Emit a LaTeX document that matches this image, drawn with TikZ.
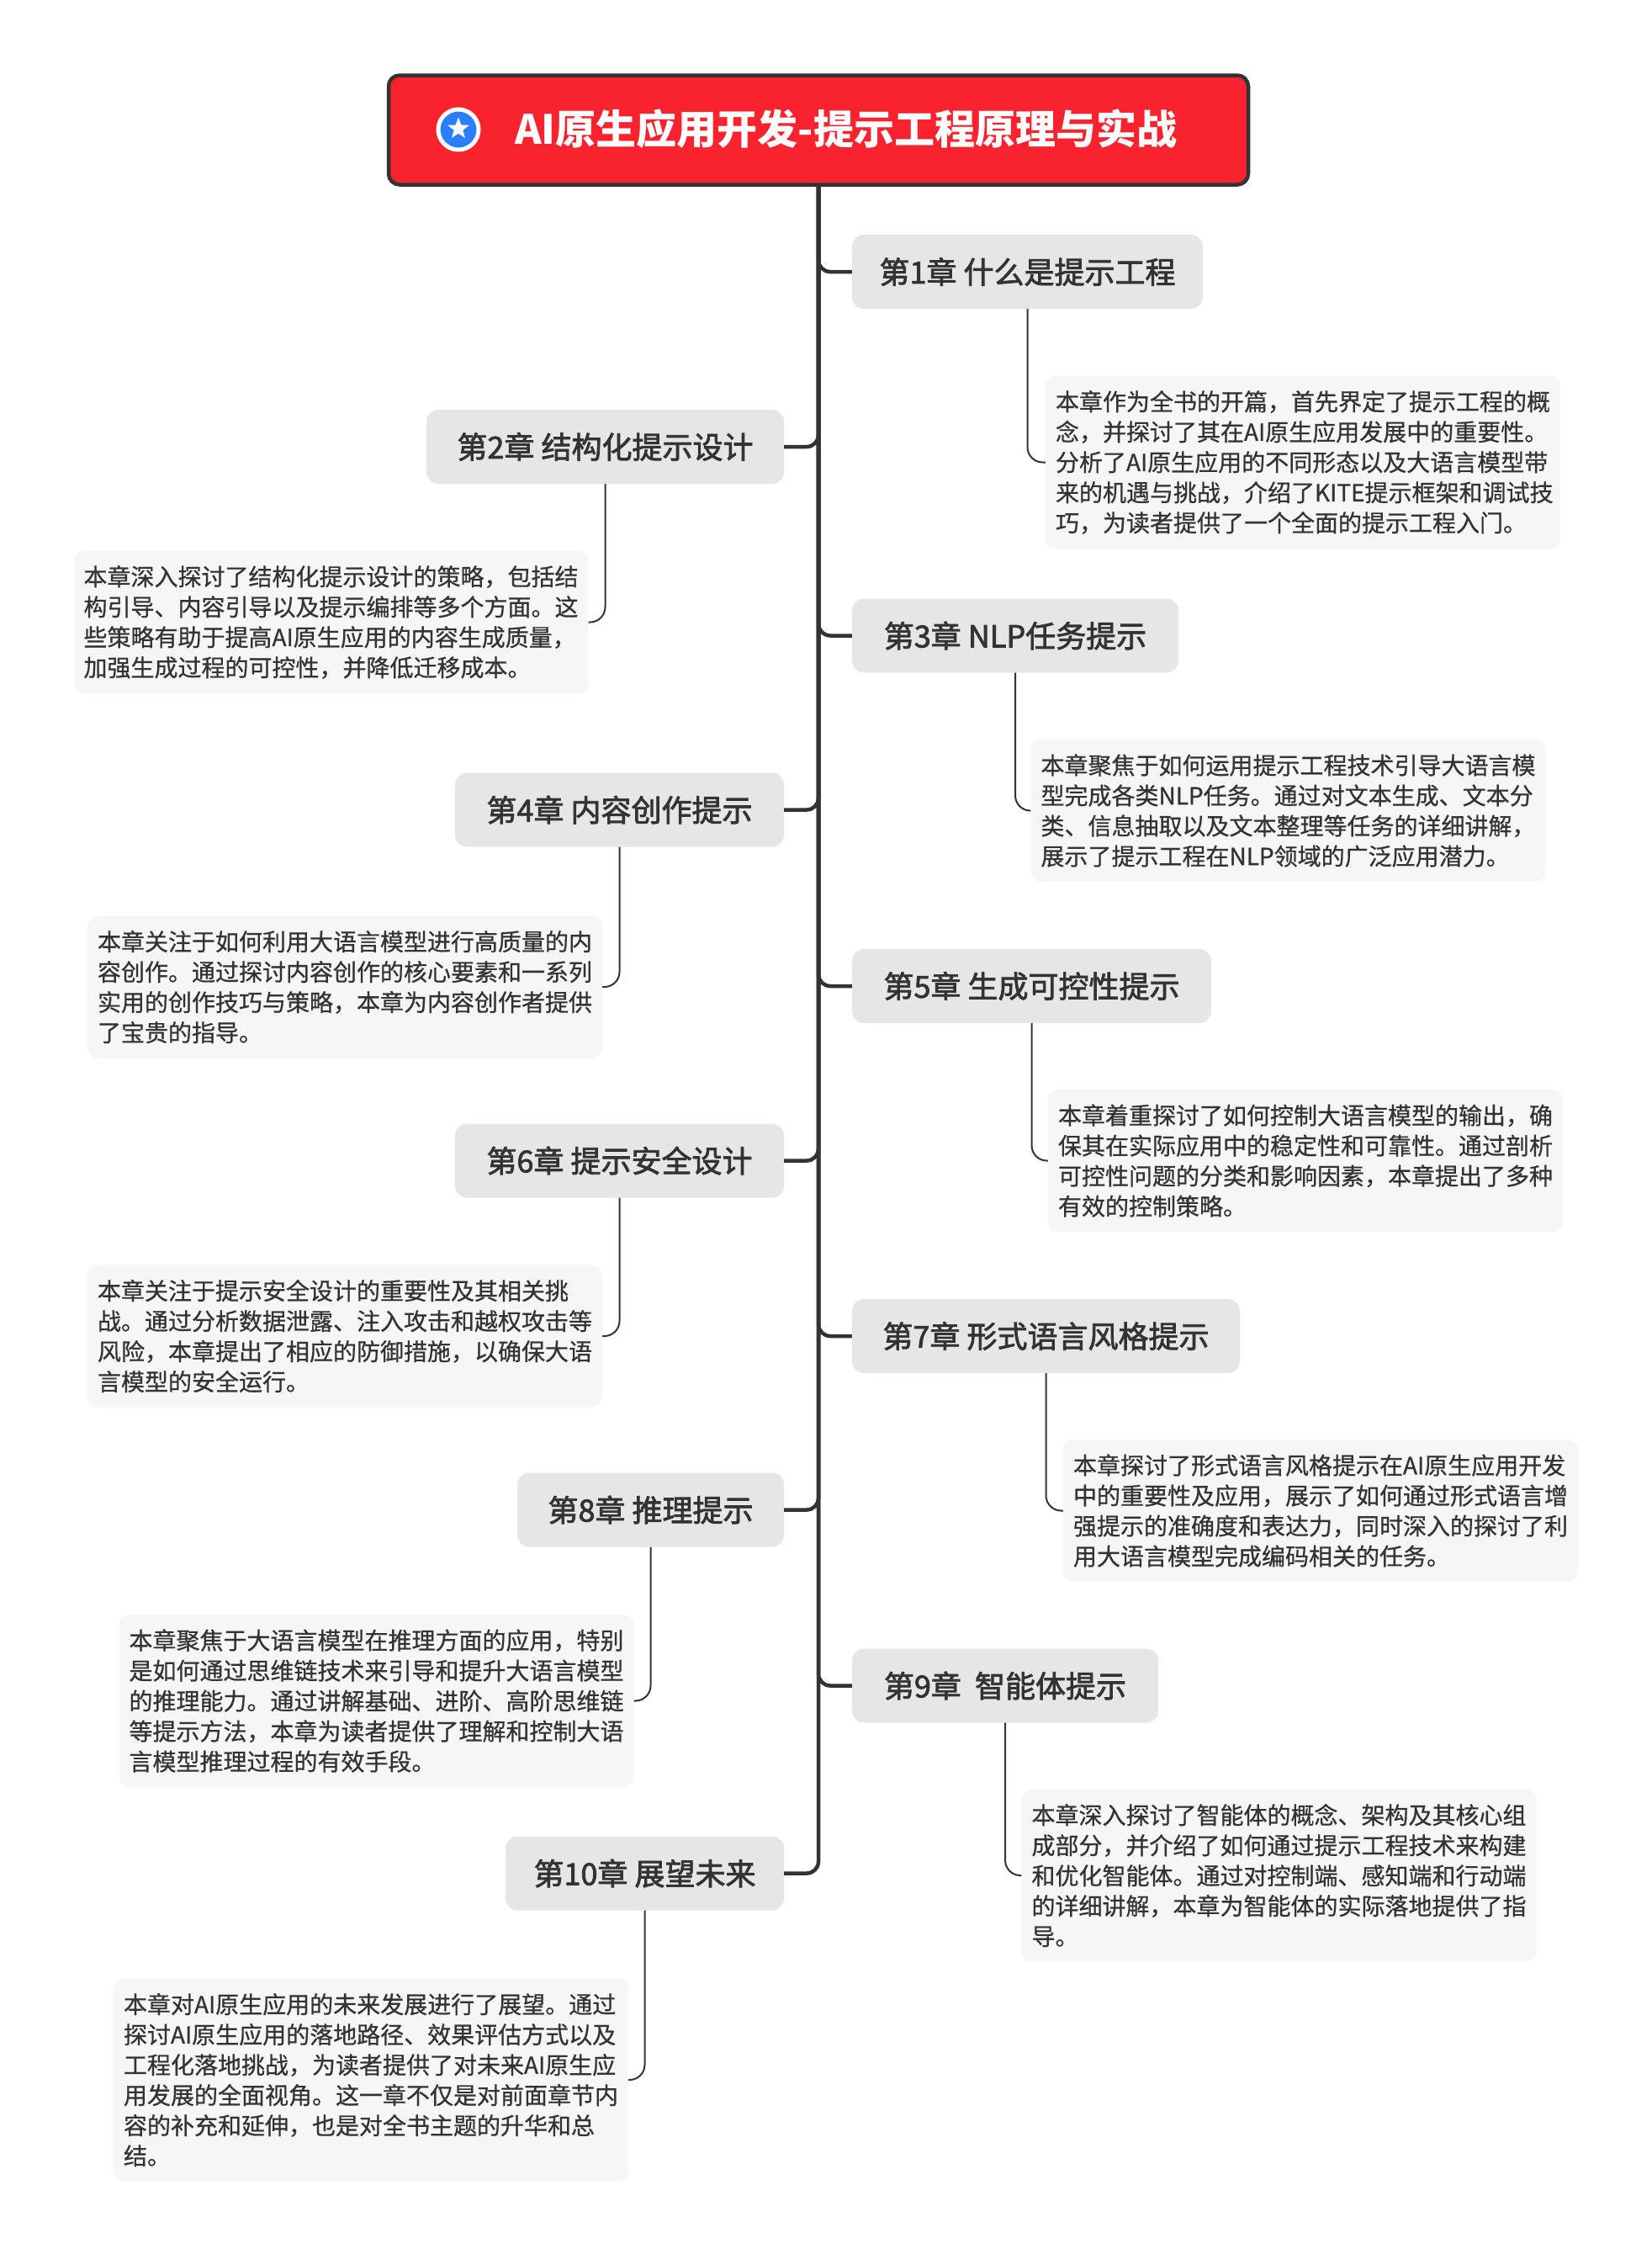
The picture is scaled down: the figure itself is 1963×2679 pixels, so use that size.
\documentclass[tikz,border=0pt]{standalone}
\usepackage{fontspec}
\setmainfont{Noto Sans CJK SC}
\newfontfamily\chapfont[FakeBold=2.2]{Noto Sans CJK SC}
\newfontfamily\descfont[FakeBold=0.7]{Noto Sans CJK SC}
\usetikzlibrary{shapes.geometric}
\definecolor{inkgray}{HTML}{333333}
\definecolor{rootred}{HTML}{F9232F}
\definecolor{iconblue}{HTML}{2B7FFF}
\definecolor{chapgray}{HTML}{E6E6E6}
\definecolor{descgray}{HTML}{F6F6F6}
\tikzset{
    rootbox/.style = {
        draw = inkgray,
        line width = 4.5pt,
        fill = rootred,
        rounded corners = 13pt,
        minimum width = 1022pt,
        minimum height = 130pt
    },
    chapbox/.style = {
        fill = chapgray,
        text = inkgray,
        rounded corners = 14pt,
        minimum height = 88pt,
        inner sep = 0pt,
        font = \chapfont\fontsize{36}{44}\selectfont
    },
    descbox/.style = {
        fill = descgray,
        text = inkgray,
        rounded corners = 12pt,
        inner xsep = 12pt,
        inner ysep = 17.5pt,
        text width = 588pt,
        align = left,
        font = \descfont\fontsize{28}{36}\selectfont
    },
    trunkline/.style = {
        draw = inkgray,
        line width = 4.5pt,
        rounded corners = 14pt
    },
    subline/.style = {
        draw = inkgray,
        line width = 2pt,
        rounded corners = 18pt
    }
}
\begin{document}
\begin{tikzpicture}[x=1pt,y=-1pt]
    \useasboundingbox (0,0) rectangle (1963,2679);
    % title
    \node[rootbox] (root) at (973,154.5) {};
    \node[circle, draw=white, line width=5pt, fill=iconblue, minimum size=48pt, inner sep=0pt] (icon) at (545,154) {};
    \node[star, star points=5, star point ratio=2.4, fill=white, inner sep=0pt, minimum size=27pt] (iconstar) at (545,153) {};
    \node[anchor=west, inner sep=0pt, text=white, font=\bfseries\fontsize{48}{56}\selectfont] (roottext) at (612,153) {AI原生应用开发-提示工程原理与实战};
    % chapters on the right
    \node[chapbox, minimum width=417pt] (ch1) at (1221.5,323) {第1章 什么是提示工程};
    \node[chapbox, minimum width=388pt] (ch3) at (1207,755.5) {第3章 NLP任务提示};
    \node[chapbox, minimum width=427pt] (ch5) at (1226.5,1172) {第5章 生成可控性提示};
    \node[chapbox, minimum width=461pt] (ch7) at (1243.5,1588) {第7章 形式语言风格提示};
    \node[chapbox, minimum width=364pt] (ch9) at (1195,2003.5) {第9章 \ 智能体提示};
    % chapters on the left
    \node[chapbox, minimum width=425pt] (ch2) at (719.5,531) {第2章 结构化提示设计};
    \node[chapbox, minimum width=391pt] (ch4) at (736.5,962.5) {第4章 内容创作提示};
    \node[chapbox, minimum width=391pt] (ch6) at (736.5,1379.5) {第6章 提示安全设计};
    \node[chapbox, minimum width=317pt] (ch8) at (773.5,1794.5) {第8章 推理提示};
    \node[chapbox, minimum width=331pt] (ch10) at (766.5,2226.5) {第10章 展望未来};
    % descriptions
    \node[descbox] (d1) at (1549,549.5) {本章作为全书的开篇，首先界定了提示工程的概\\念，并探讨了其在AI原生应用发展中的重要性。\\分析了AI原生应用的不同形态以及大语言模型带\\来的机遇与挑战，介绍了KITE提示框架和调试技\\巧，为读者提供了一个全面的提示工程入门。};
    \node[descbox] (d2) at (393.5,739.5) {本章深入探讨了结构化提示设计的策略，包括结\\构引导、内容引导以及提示编排等多个方面。这\\些策略有助于提高AI原生应用的内容生成质量，\\加强生成过程的可控性，并降低迁移成本。};
    \node[descbox] (d3) at (1531.5,963.5) {本章聚焦于如何运用提示工程技术引导大语言模\\型完成各类NLP任务。通过对文本生成、文本分\\类、信息抽取以及文本整理等任务的详细讲解，\\展示了提示工程在NLP领域的广泛应用潜力。};
    \node[descbox] (d4) at (410,1173) {本章关注于如何利用大语言模型进行高质量的内\\容创作。通过探讨内容创作的核心要素和一系列\\实用的创作技巧与策略，本章为内容创作者提供\\了宝贵的指导。};
    \node[descbox] (d5) at (1552,1379.5) {本章着重探讨了如何控制大语言模型的输出，确\\保其在实际应用中的稳定性和可靠性。通过剖析\\可控性问题的分类和影响因素，本章提出了多种\\有效的控制策略。};
    \node[descbox] (d6) at (410,1588) {本章关注于提示安全设计的重要性及其相关挑\\战。通过分析数据泄露、注入攻击和越权攻击等\\风险，本章提出了相应的防御措施，以确保大语\\言模型的安全运行。};
    \node[descbox] (d7) at (1570,1795.5) {本章探讨了形式语言风格提示在AI原生应用开发\\中的重要性及应用，展示了如何通过形式语言增\\强提示的准确度和表达力，同时深入的探讨了利\\用大语言模型完成编码相关的任务。};
    \node[descbox] (d8) at (447.5,2021.5) {本章聚焦于大语言模型在推理方面的应用，特别\\是如何通过思维链技术来引导和提升大语言模型\\的推理能力。通过讲解基础、进阶、高阶思维链\\等提示方法，本章为读者提供了理解和控制大语\\言模型推理过程的有效手段。};
    \node[descbox] (d9) at (1520.5,2229) {本章深入探讨了智能体的概念、架构及其核心组\\成部分，并介绍了如何通过提示工程技术来构建\\和优化智能体。通过对控制端、感知端和行动端\\的详细讲解，本章为智能体的实际落地提供了指\\导。};
    \node[descbox] (d10) at (441,2472) {本章对AI原生应用的未来发展进行了展望。通过\\探讨AI原生应用的落地路径、效果评估方式以及\\工程化落地挑战，为读者提供了对未来AI原生应\\用发展的全面视角。这一章不仅是对前面章节内\\容的补充和延伸，也是对全书主题的升华和总\\结。};
    % trunk and branches
    \draw[trunkline] (root.south) |- (ch1.west);
    \draw[trunkline] (root.south) |- (ch2.east);
    \draw[trunkline] (root.south) |- (ch3.west);
    \draw[trunkline] (root.south) |- (ch4.east);
    \draw[trunkline] (root.south) |- (ch5.west);
    \draw[trunkline] (root.south) |- (ch6.east);
    \draw[trunkline] (root.south) |- (ch7.west);
    \draw[trunkline] (root.south) |- (ch8.east);
    \draw[trunkline] (root.south) |- (ch9.west);
    \draw[trunkline] (root.south) |- (ch10.east);
    % chapter to description
    \draw[subline] (ch1.south) |- (d1.west);
    \draw[subline] (ch2.south) |- (d2.east);
    \draw[subline] (ch3.south) |- (d3.west);
    \draw[subline] (ch4.south) |- (d4.east);
    \draw[subline] (ch5.south) |- (d5.west);
    \draw[subline] (ch6.south) |- (d6.east);
    \draw[subline] (ch7.south) |- (d7.west);
    \draw[subline] (ch8.south) |- (d8.east);
    \draw[subline] (ch9.south) |- (d9.west);
    \draw[subline] (ch10.south) |- (d10.east);
\end{tikzpicture}
\end{document}
